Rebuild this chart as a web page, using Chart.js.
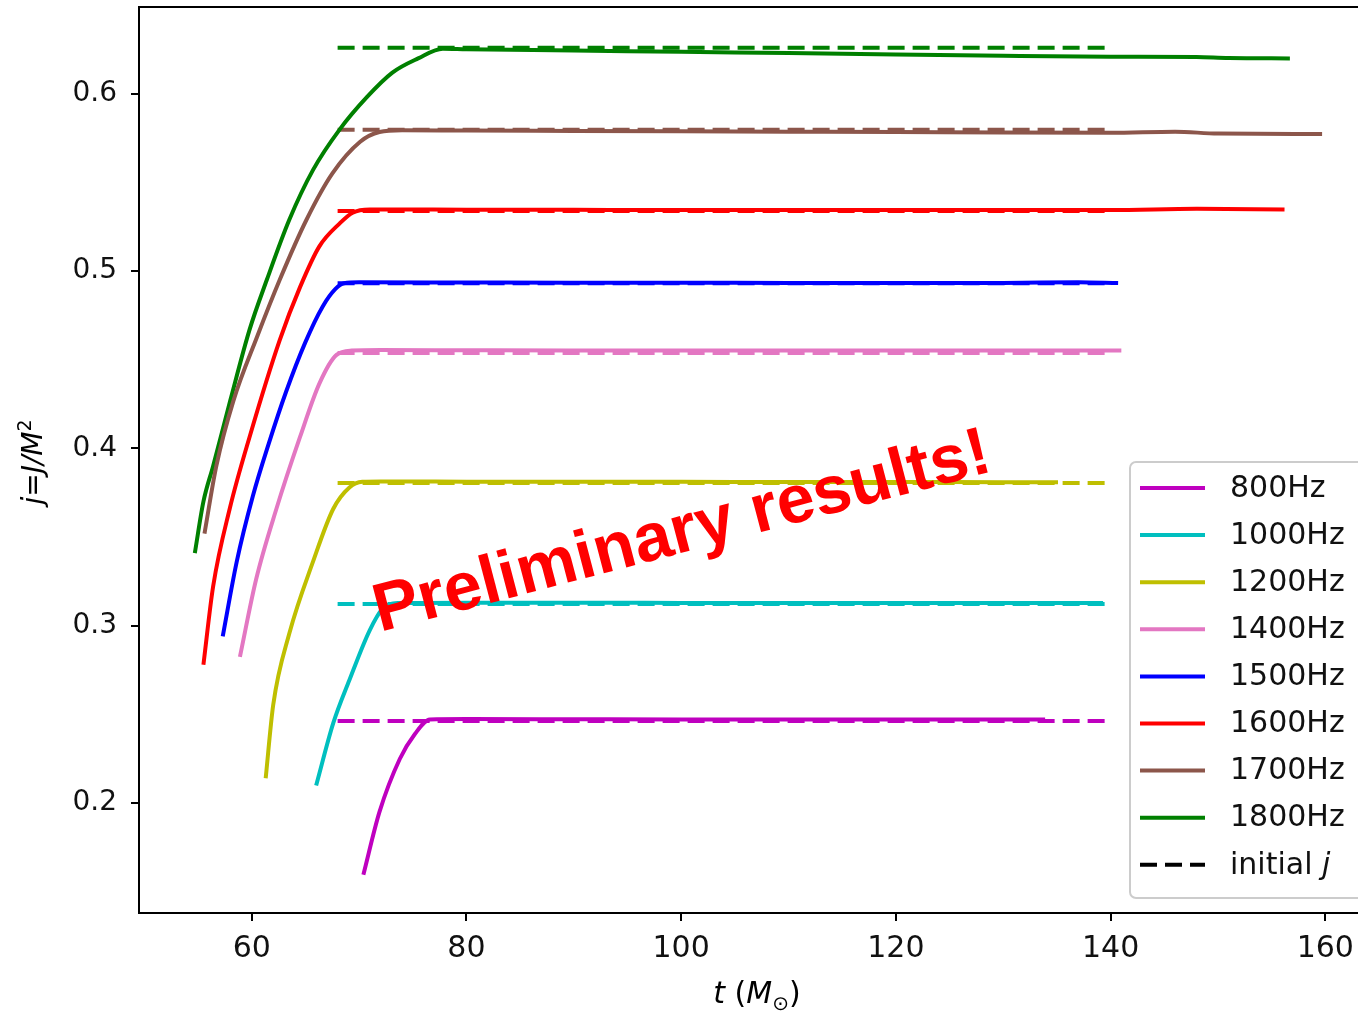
<!DOCTYPE html>
<html>
<head>
<meta charset="utf-8">
<script src="https://cdn.jsdelivr.net/npm/chart.js@4.4.1/dist/chart.umd.min.js"></script>
<style>
  html, body { margin: 0; padding: 0; background: #fff; }
  #wrap { width: 1358px; height: 1014px; overflow: hidden; }
</style>
</head>
<body>
<div id="wrap"><canvas id="spinChart" width="1385" height="1014"></canvas></div>
<script>
// series labels and the initial spin (dashed lines)
const freqLabels = ['800Hz', '1000Hz', '1200Hz', '1400Hz', '1500Hz', '1600Hz', '1700Hz', '1800Hz'];
const initialJ = [0.2463, 0.3123, 0.3805, 0.4538, 0.4932, 0.534, 0.5797, 0.626];
const initialT = [68, 140];

// t (M_sun) and j for every run
const t800 = [70.4, 71.9, 73.8, 75.2, 76.6, 80, 90, 100, 110, 120, 130, 133.9];
const j800 = [0.1596, 0.195, 0.225, 0.239, 0.2472, 0.2474, 0.2473, 0.2472, 0.2472, 0.2471, 0.2471, 0.2471];
const t1000 = [66.0, 67.6, 69.1, 71.0, 72.2, 73.6, 80, 90, 100, 110, 120, 130, 139.3];
const j1000 = [0.2099, 0.2452, 0.2694, 0.2976, 0.3097, 0.3128, 0.313, 0.313, 0.3129, 0.3128, 0.3128, 0.3128, 0.3128];
const t1200 = [61.3, 62.0, 63.5, 65.7, 67.6, 69.1, 70.3, 72, 80, 90, 100, 110, 120, 130, 135.1];
const j1200 = [0.214, 0.2553, 0.2956, 0.336, 0.366, 0.378, 0.3812, 0.3814, 0.3813, 0.3812, 0.3812, 0.3811, 0.3811, 0.381, 0.381];
const t1400 = [58.9, 60.4, 62.3, 64.5, 66.3, 67.9, 69.3, 72, 80, 90, 100, 110, 120, 130, 141.0];
const j1400 = [0.2825, 0.326, 0.366, 0.4065, 0.4366, 0.4528, 0.4552, 0.4555, 0.4554, 0.4553, 0.4553, 0.4553, 0.4552, 0.4552, 0.4552];
const t1500 = [57.3, 58.6, 60.1, 61.6, 63.2, 65.0, 66.6, 67.8, 68.6, 70, 80, 90, 100, 110, 120, 130, 137, 140.7];
const j1500 = [0.294, 0.336, 0.373, 0.403, 0.432, 0.460, 0.480, 0.490, 0.4932, 0.4937, 0.4936, 0.4935, 0.4935, 0.4934, 0.4934, 0.4934, 0.4938, 0.4933];
const t1600 = [55.5, 56.4, 57.95, 59.8, 62.6, 64.5, 66.3, 68.2, 69.4, 71, 80, 90, 100, 110, 120, 130, 140, 148, 156.2];
const j1600 = [0.278, 0.322, 0.366, 0.4065, 0.461, 0.491, 0.514, 0.527, 0.533, 0.5348, 0.5347, 0.5346, 0.5345, 0.5345, 0.5345, 0.5345, 0.5345, 0.5352, 0.5348];
const t1700 = [55.6, 56.7, 58.3, 60.5, 62.6, 65.1, 67.5, 70.1, 71.9, 74, 80, 90, 100, 110, 120, 130, 140, 146, 150, 159.7];
const j1700 = [0.352, 0.390, 0.427, 0.463, 0.495, 0.529, 0.555, 0.573, 0.5785, 0.5795, 0.5793, 0.5791, 0.5789, 0.5787, 0.5785, 0.5782, 0.5781, 0.5787, 0.5776, 0.5774];
const t1800 = [54.7, 55.5, 56.4, 58.0, 59.8, 61.4, 63.5, 65.7, 68.2, 70.7, 73.1, 75.5, 77.8, 80, 90, 100, 110, 120, 130, 140, 148, 151, 156.7];
const j1800 = [0.341, 0.370, 0.390, 0.427, 0.467, 0.495, 0.529, 0.557, 0.580, 0.598, 0.612, 0.620, 0.6255, 0.6252, 0.6245, 0.6237, 0.623, 0.6222, 0.6215, 0.621, 0.6208, 0.6202, 0.620];

const runsT = [t800, t1000, t1200, t1400, t1500, t1600, t1700, t1800];
const runsJ = [j800, j1000, j1200, j1400, j1500, j1600, j1700, j1800];

// axis ticks
const xTicks = [60, 80, 100, 120, 140, 160];
const yTicks = [0.2, 0.3, 0.4, 0.5, 0.6];

const colors = ['#bf00bf', '#00bfbf', '#bfbf00', '#e377c2', '#0000ff', '#ff0000', '#8c564b', '#008000'];
const FONT = '"DejaVu Sans", sans-serif';

// solid lines first so they are painted over the dashed ones
let datasets = [];
runsT.forEach((ts, i) => {
    datasets.push({
        label: freqLabels[i],
        data: ts.map((t, k) => ({ x: t, y: runsJ[i][k] })),
        borderColor: colors[i],
        borderWidth: 4,
        showLine: true,
        pointRadius: 0,
        cubicInterpolationMode: 'monotone'
    });
});
initialJ.forEach((j, i) => {
    datasets.push({
        label: 'initial ' + freqLabels[i],
        data: initialT.map(t => ({ x: t, y: j })),
        borderColor: colors[i],
        borderWidth: 4,
        borderDash: [17, 8],
        showLine: true,
        pointRadius: 0
    });
});

// frame, axis labels, legend box and the red stamp
const decorations = {
    id: 'decorations',
    afterDraw(chart) {
        const ctx = chart.ctx;
        const a = chart.chartArea;
        ctx.save();

        // frame
        ctx.strokeStyle = '#000';
        ctx.lineWidth = 2;
        ctx.strokeRect(a.left, a.top, a.right - a.left, a.bottom - a.top);

        // x label: t (M_sun)
        ctx.fillStyle = '#000';
        ctx.textBaseline = 'alphabetic';
        const xParts = [
            ['t', 'italic 30px ' + FONT, 0],
            [' (', '30px ' + FONT, 0],
            ['M', 'italic 30px ' + FONT, 0],
            ['\u2299', '20px ' + FONT, 7],
            [')', '30px ' + FONT, 0]
        ];
        let total = 0;
        xParts.forEach(p => { ctx.font = p[1]; total += ctx.measureText(p[0]).width; });
        let x = 757 - total / 2;
        xParts.forEach(p => {
            ctx.font = p[1];
            ctx.fillText(p[0], x, 1003 + p[2]);
            x += ctx.measureText(p[0]).width;
        });

        // y label: j = J/M^2
        ctx.save();
        ctx.translate(42, 462);
        ctx.rotate(-Math.PI / 2);
        const yParts = [
            ['j', 'italic 28px ' + FONT, 0],
            ['=', '28px ' + FONT, 0],
            ['J/M', 'italic 28px ' + FONT, 0],
            ['2', '19px ' + FONT, -11]
        ];
        total = 0;
        yParts.forEach(p => { ctx.font = p[1]; total += ctx.measureText(p[0]).width; });
        x = -total / 2;
        yParts.forEach(p => {
            ctx.font = p[1];
            ctx.fillText(p[0], x, p[2]);
            x += ctx.measureText(p[0]).width;
        });
        ctx.restore();

        // legend
        const lx = 1130, ly = 462, lw = 280, lh = 436;
        ctx.beginPath();
        ctx.roundRect(lx, ly, lw, lh, 6);
        ctx.fillStyle = 'rgba(255,255,255,0.85)';
        ctx.fill();
        ctx.strokeStyle = '#cccccc';
        ctx.lineWidth = 2;
        ctx.stroke();

        ctx.textBaseline = 'middle';
        const rowH = 47.1;
        freqLabels.forEach((lab, i) => {
            const ry = 488 + i * rowH;
            ctx.strokeStyle = colors[i];
            ctx.lineWidth = 4;
            ctx.setLineDash([]);
            ctx.beginPath();
            ctx.moveTo(1140, ry);
            ctx.lineTo(1205, ry);
            ctx.stroke();
            ctx.fillStyle = '#111';
            ctx.font = '30px ' + FONT;
            ctx.fillText(lab, 1230, ry + 1);
        });
        const ry = 488 + 8 * rowH;
        ctx.strokeStyle = '#000';
        ctx.setLineDash([17, 8]);
        ctx.beginPath();
        ctx.moveTo(1140, ry);
        ctx.lineTo(1205, ry);
        ctx.stroke();
        ctx.setLineDash([]);
        ctx.fillStyle = '#111';
        ctx.font = '30px ' + FONT;
        ctx.fillText('initial ', 1230, ry + 1);
        const w = ctx.measureText('initial ').width;
        ctx.font = 'italic 30px ' + FONT;
        ctx.fillText('j', 1230 + w, ry + 1);

        // stamp
        ctx.translate(380, 632);
        ctx.rotate(-14.7 * Math.PI / 180);
        ctx.fillStyle = '#ff0000';
        ctx.textBaseline = 'alphabetic';
        ctx.font = 'bold 68px "Liberation Sans", Arial, sans-serif';
        ctx.fillText('Preliminary results!', 0, 0);

        ctx.restore();
    }
};

new Chart(document.getElementById('spinChart'), {
    type: 'scatter',
    data: { datasets: datasets },
    options: {
        responsive: false,
        animation: false,
        layout: { padding: { top: 7, right: 6, left: 0, bottom: 0 } },
        plugins: {
            legend: { display: false },
            tooltip: { enabled: false }
        },
        scales: {
            x: {
                type: 'linear',
                min: 49.5,
                max: 165,
                afterFit: s => { s.height = 101; s.paddingLeft = 0; s.paddingRight = 0; },
                afterBuildTicks: s => { s.ticks = xTicks.map(v => ({ value: v })); },
                grid: { drawOnChartArea: false, drawTicks: true, tickLength: 8, color: '#000', lineWidth: 2 },
                border: { display: true, color: '#000', width: 2 },
                ticks: { color: '#111', padding: 10, font: { family: FONT, size: 30 }, callback: v => String(v) }
            },
            y: {
                type: 'linear',
                min: 0.138,
                max: 0.649,
                afterFit: s => { s.width = 139; s.paddingTop = 0; s.paddingBottom = 0; },
                afterBuildTicks: s => { s.ticks = yTicks.map(v => ({ value: v })); },
                grid: { drawOnChartArea: false, drawTicks: true, tickLength: 8, color: '#000', lineWidth: 2 },
                border: { display: true, color: '#000', width: 2 },
                ticks: { color: '#111', padding: 14, font: { family: FONT, size: 28 }, callback: v => v.toFixed(1) }
            }
        }
    },
    plugins: [decorations]
});
</script>
</body>
</html>
